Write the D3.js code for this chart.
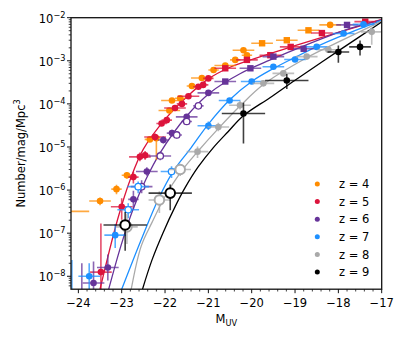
<!DOCTYPE html>
<html>
<head>
<meta charset="utf-8">
<script src="https://cdn.jsdelivr.net/npm/d3@7"></script>
<style>
  body { margin: 0; background: #fff; }
  text { font-family: "DejaVu Sans", sans-serif; }
</style>
</head>
<body>
<script>
// ---- data (M_UV, phi, xerr, dex below, dex above) ----
var redshifts = ["z = 4", "z = 5", "z = 6", "z = 7", "z = 8", "z = 9"];
var colors = ["#ff8c00", "#dc143c", "#663399", "#1e90ff", "#a9a9a9", "#000000"];

var z4Dots = [
  [-24.25, 3.2e-7, 0.5, 0, 0], [-23.5, 5.6e-7, 0.25, 0.1, 0.08], [-23.12, 1.05e-6, 0.12, 0.12, 0.1],
  [-22.88, 2.2e-6, 0.12, 0.08, 0.07], [-22.35, 1.5e-5, 0.12, 0.05, 0.05], [-22.2, 1.6e-5, 0.05, 0.5, 0.05],
  [-21.9, 7e-5, 0.25, 0.05, 0.05], [-21.84, 1.2e-4, 0.25, 0.04, 0.04], [-21.65, 1.35e-4, 0.12, 0.04, 0.04],
  [-21.38, 2.6e-4, 0.12, 0.03, 0.03], [-21.15, 4e-4, 0.25, 0.03, 0.03], [-20.88, 6.1e-4, 0.12, 0.03, 0.03],
  [-20.61, 7.8e-4, 0.25, 0.03, 0.03], [-20.38, 1.05e-3, 0.12, 0.03, 0.03], [-20.19, 1.75e-3, 0.25, 0.03, 0.03],
  [-20.11, 1.35e-3, 0.12, 0.03, 0.03], [-18.19, 6.8e-3, 0.25, 0.03, 0.03]
];
var z4Squares = [[-19.76, 2.55e-3, 0.25, 0.03, 0.03], [-19.19, 3e-3, 0.25, 0.03, 0.03], [-18.69, 5.1e-3, 0.25, 0.03, 0.03]];

var z5Dots = [
  [-23.48, 1.25e-8, 0.25, 0.6, 1.13], [-23.0, 4.1e-7, 0.25, 0.3, 0.2], [-22.73, 2e-6, 0.12, 0.15, 0.12],
  [-22.58, 5.9e-6, 0.25, 0.1, 0.1], [-22.46, 6.4e-6, 0.12, 0.1, 0.1], [-22.23, 1.7e-5, 0.25, 0.08, 0.08],
  [-22.08, 3.5e-5, 0.12, 0.06, 0.06], [-21.96, 4.2e-5, 0.12, 0.05, 0.05], [-21.77, 8e-5, 0.25, 0.05, 0.05],
  [-21.61, 1e-4, 0.12, 0.04, 0.04], [-21.46, 1.5e-4, 0.25, 0.04, 0.04], [-21.23, 2.5e-4, 0.12, 0.03, 0.03],
  [-21.12, 2.76e-4, 0.12, 0.03, 0.03], [-21.0, 3.9e-4, 0.12, 0.03, 0.03]
];
var z5Squares = [[-20.61, 6.7e-4, 0.25, 0.03, 0.03], [-20.11, 1.05e-3, 0.25, 0.03, 0.03], [-19.57, 1.35e-3, 0.25, 0.03, 0.03],
  [-19.1, 2.1e-3, 0.25, 0.03, 0.03], [-18.38, 4.4e-3, 0.25, 0.03, 0.03], [-17.38, 8.1e-3, 0.25, 0.03, 0.03]];

var z6Dots = [
  [-23.92, 2e-9, 0, 0, 1.0], [-23.65, 7e-9, 0.25, 0.5, 0.5], [-23.32, 1.6e-8, 0.25, 0.3, 0.3],
  [-22.73, 6.1e-7, 0.12, 0.25, 0.2], [-22.42, 2.7e-6, 0.25, 0.1, 0.1], [-22.04, 1.45e-5, 0.12, 0.08, 0.08],
  [-21.84, 2.1e-5, 0.12, 0.08, 0.08], [-21.5, 5e-5, 0.25, 0.06, 0.06], [-21.0, 1.8e-4, 0.25, 0.04, 0.04]
];
var z6Squares = [[-20.61, 3.3e-4, 0.25, 0.03, 0.03], [-20.03, 6.7e-4, 0.25, 0.03, 0.03], [-19.5, 1.25e-3, 0.25, 0.03, 0.03],
  [-18.8, 1.9e-3, 0.25, 0.03, 0.03], [-17.8, 6.8e-3, 0.25, 0.03, 0.03]];
var z6Open = [[-22.54, 1.2e-6, 0.25, 0.15, 0.15], [-22.11, 6.2e-6, 0.25, 0.1, 0.1], [-21.73, 1.9e-5, 0.12, 0.08, 0.08],
  [-21.5, 3.9e-5, 0.12, 0.06, 0.06], [-21.23, 9e-5, 0.12, 0.05, 0.05]];

var z7Dots = [
  [-24.15, 3e-9, 0, 0, 0.9], [-23.75, 1e-8, 0.25, 0.5, 0.3], [-23.15, 9e-8, 0.25, 0.3, 0.25],
  [-21.0, 3.1e-5, 0.25, 0.1, 0.1], [-20.51, 1.2e-4, 0.25, 0.05, 0.05], [-20.0, 3.3e-4, 0.25, 0.05, 0.05],
  [-19.5, 7.3e-4, 0.25, 0.04, 0.04], [-19.0, 1.07e-3, 0.25, 0.04, 0.04], [-18.5, 2.1e-3, 0.25, 0.04, 0.04],
  [-17.88, 4.3e-3, 0.25, 0.04, 0.04], [-17.42, 7e-3, 0.25, 0.04, 0.04]
];
var z7Open = [[-22.85, 3.5e-7, 0.25, 0.2, 0.15], [-22.62, 1.2e-6, 0.25, 0.15, 0.12], [-21.85, 2.7e-6, 0.25, 0.15, 0.12]];

var z8Dots = [
  [-21.25, 7.8e-6, 0.25, 0.15, 0.12], [-20.77, 2.9e-5, 0.25, 0.1, 0.1], [-20.27, 9.3e-5, 0.25, 0.1, 0.1],
  [-19.73, 3e-4, 0.25, 0.06, 0.06], [-19.27, 5.1e-4, 0.25, 0.06, 0.06], [-18.73, 1.25e-3, 0.25, 0.06, 0.06],
  [-18.23, 1.8e-3, 0.25, 0.06, 0.06], [-17.23, 4.7e-3, 0.25, 0.3, 0.1]
];
var z8Open = [[-22.88, 1.4e-7, 0.25, 0.4, 0.3], [-22.13, 5.9e-7, 0.25, 0.3, 0.2], [-21.65, 3e-6, 0.25, 0.15, 0.12]];

var z9Dots = [[-20.19, 6e-5, 0.5, 0.7, 0.25], [-19.19, 3.5e-4, 0.5, 0.2, 0.15], [-18.0, 1.6e-3, 0.25, 0.25, 0.15],
  [-17.5, 2.1e-3, 0.25, 0.2, 0.15]];
var z9Open = [[-22.92, 1.55e-7, 0.5, 0.6, 0.3], [-21.88, 8.5e-7, 0.5, 0.4, 0.2]];

// model curves: [M_UV, log10 phi]
var curve5 = [[-23.5, -8.3], [-23.1, -6.7], [-22.8, -5.75], [-22.5, -5.05], [-22.0, -4.36], [-21.5, -3.84],
  [-21.0, -3.42], [-20.5, -3.15], [-20.0, -2.97], [-19.0, -2.65], [-18.0, -2.34], [-17.0, -2.04]];
var curve6 = [[-23.3, -8.3], [-23.02, -7.3], [-22.74, -6.45], [-22.44, -5.75], [-22.11, -5.13], [-21.49, -4.27],
  [-20.96, -3.74], [-20.27, -3.3], [-19.57, -2.98], [-18.81, -2.66], [-17.73, -2.25], [-17.0, -2.05]];
var curve7 = [[-23.0, -8.3], [-22.55, -7.15], [-22.15, -6.2], [-21.8, -5.55], [-21.4, -5.02], [-21.0, -4.47],
  [-20.5, -3.9], [-20.0, -3.48], [-19.5, -3.18], [-19.0, -2.92], [-18.5, -2.67], [-18.0, -2.45], [-17.0, -2.06]];
var curve8 = [[-22.78, -8.3], [-22.55, -7.3], [-22.3, -6.75], [-22.0, -6.15], [-21.65, -5.6], [-21.25, -5.11],
  [-20.75, -4.55], [-20.27, -4.05], [-19.73, -3.55], [-18.73, -2.93], [-18.03, -2.58], [-17.0, -2.08]];
var curve9 = [[-22.52, -8.3], [-22.3, -7.62], [-22.05, -7.0], [-21.77, -6.39], [-21.54, -5.95], [-21.24, -5.47],
  [-20.89, -5.02], [-20.54, -4.64], [-20.2, -4.28], [-19.57, -3.85], [-19.0, -3.45], [-18.0, -2.77], [-17.0, -2.1]];

var xTicks = [-24, -23, -22, -21, -20, -19, -18, -17];
var yTickExp = [-8, -7, -6, -5, -4, -3, -2];

// ---- layout ----
var W = 407, H = 339;
var pL = 71, pT = 17.7, pR = 381.7, pB = 289.2;

var svg = d3.select("body").append("svg").attr("width", W).attr("height", H);

var x = d3.scaleLinear().domain([-24.17, -17]).range([pL, pR]);
var y = d3.scaleLog().domain([Math.pow(10, -8.3), 1e-2]).range([pB, pT]);

svg.append("clipPath").attr("id", "clip")
  .append("rect").attr("x", pL).attr("y", pT).attr("width", pR - pL).attr("height", pB - pT);

var plot = svg.append("g").attr("clip-path", "url(#clip)");

// curves
var line = d3.line()
  .x(function (d) { return x(d[0]); })
  .y(function (d) { return y(Math.pow(10, d[1])); })
  .curve(d3.curveCatmullRom.alpha(0.5));

[[curve5, 1], [curve6, 2], [curve7, 3], [curve8, 4], [curve9, 5]].forEach(function (c) {
  plot.append("path").datum(c[0]).attr("d", line)
    .attr("fill", "none").attr("stroke", colors[c[1]]).attr("stroke-width", 1.3);
});

function drawSet(pts, ci, kind) {
  var col = colors[ci];
  var g = plot.append("g");
  pts.forEach(function (d) {
    var cy = y(d[1]);
    if (d[2] > 0) {
      g.append("line").attr("x1", x(d[0] - d[2])).attr("x2", x(d[0] + d[2]))
        .attr("y1", cy).attr("y2", cy)
        .attr("stroke", col).attr("stroke-width", 1.6).attr("stroke-opacity", 0.75);
    }
    if (d[3] > 0 || d[4] > 0) {
      g.append("line").attr("x1", x(d[0])).attr("x2", x(d[0]))
        .attr("y1", y(d[1] * Math.pow(10, -d[3]))).attr("y2", y(d[1] * Math.pow(10, d[4])))
        .attr("stroke", col).attr("stroke-width", 1.6).attr("stroke-opacity", 0.75);
    }
  });
  pts.forEach(function (d) {
    var cx = x(d[0]), cy = y(d[1]);
    if (kind === "sq") {
      g.append("rect").attr("x", cx - 3.2).attr("y", cy - 3.2).attr("width", 6.4).attr("height", 6.4).attr("fill", col);
    } else if (kind === "open") {
      g.append("circle").attr("cx", cx).attr("cy", cy).attr("r", 3.2)
        .attr("fill", "#fff").attr("stroke", col).attr("stroke-width", 1.3);
    } else if (kind === "big") {
      g.append("circle").attr("cx", cx).attr("cy", cy).attr("r", 4.8)
        .attr("fill", "#fff").attr("stroke", col).attr("stroke-width", 2);
    } else {
      g.append("circle").attr("cx", cx).attr("cy", cy).attr("r", 3.3).attr("fill", col);
    }
  });
}

drawSet(z4Dots, 0, "dot");
drawSet(z4Squares, 0, "sq");
drawSet(z5Dots, 1, "dot");
drawSet(z5Squares, 1, "sq");
drawSet(z6Dots, 2, "dot");
drawSet(z6Squares, 2, "sq");
drawSet(z6Open, 2, "open");
drawSet(z7Dots, 3, "dot");
drawSet(z7Open, 3, "open");
drawSet(z8Dots, 4, "dot");
drawSet(z8Open, 4, "big");
drawSet(z9Dots, 5, "dot");
drawSet(z9Open, 5, "big");

// frame
svg.append("rect").attr("x", pL).attr("y", pT).attr("width", pR - pL).attr("height", pB - pT)
  .attr("fill", "none").attr("stroke", "#111").attr("stroke-width", 1.3);

// x axis ticks
var axes = svg.append("g").attr("stroke", "#111");
d3.range(-24.0, -16.99, 0.2).forEach(function (m) {
  var major = Math.abs(m - Math.round(m)) < 1e-6;
  axes.append("line").attr("x1", x(m)).attr("x2", x(m))
    .attr("y1", pB).attr("y2", pB + (major ? 4 : 2.3)).attr("stroke-width", major ? 1 : 0.8);
});
xTicks.forEach(function (m) {
  svg.append("text").attr("x", x(m)).attr("y", pB + 18).attr("text-anchor", "middle")
    .attr("font-size", 11.5).text("\u2212" + Math.abs(m));
});

// y axis ticks (log)
yTickExp.forEach(function (e) {
  var v = Math.pow(10, e);
  axes.append("line").attr("x1", pL - 4).attr("x2", pL).attr("y1", y(v)).attr("y2", y(v)).attr("stroke-width", 1);
  for (var k = 2; k <= 9; k++) {
    var vm = k * Math.pow(10, e - 1);
    if (vm >= y.domain()[0]) {
      axes.append("line").attr("x1", pL - 2.3).attr("x2", pL).attr("y1", y(vm)).attr("y2", y(vm)).attr("stroke-width", 0.8);
    }
  }
  var t = svg.append("text").attr("x", pL - 5.5).attr("y", y(v) + 4.8).attr("text-anchor", "end").attr("font-size", 11.5);
  t.append("tspan").text("10");
  t.append("tspan").attr("dy", -5).attr("font-size", 8.2).text("\u2212" + Math.abs(e));
});

// axis labels
var xl = svg.append("text").attr("x", (pL + pR) / 2).attr("y", 323.3).attr("text-anchor", "middle").attr("font-size", 11.5);
xl.append("tspan").text("M");
xl.append("tspan").attr("font-size", 8.2).attr("dy", 2.5).text("UV");

var yl = svg.append("text").attr("transform", "translate(24.5," + ((pT + pB) / 2) + ") rotate(-90)")
  .attr("text-anchor", "middle").attr("font-size", 11.5);
yl.append("tspan").text("Number/mag/Mpc");
yl.append("tspan").attr("dy", -4.5).attr("font-size", 8.2).text("3");

// legend
var lg = svg.append("g");
redshifts.forEach(function (lab, i) {
  var ly = 184 + i * 17.6;
  lg.append("circle").attr("cx", 317.3).attr("cy", ly).attr("r", 2.5).attr("fill", colors[i]);
  lg.append("text").attr("x", 339).attr("y", ly + 4.2).attr("font-size", 11.5).text(lab);
});
</script>
</body>
</html>
